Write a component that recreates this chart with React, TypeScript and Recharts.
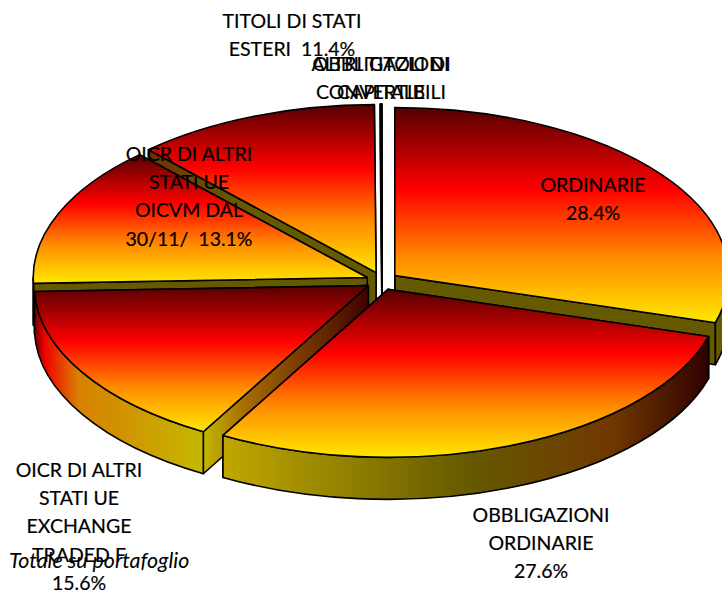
import { PieChart, Pie } from "recharts";

const names = [
  "ORDINARIE",
  "OBBLIGAZIONI ORDINARIE",
  "OICR DI ALTRI STATI UE EXCHANGE TRADED F",
  "OICR DI ALTRI STATI UE OICVM DAL 30/11/",
  "TITOLI DI STATI ESTERI",
  "ALTRI TITOLI DI CAPITALE",
  "OBBLIGAZIONI CONVERTIBILI",
];
const values = [28.4, 27.6, 15.6, 13.1, 11.4, 0.04, 0.04];
const labelLines = [
  ["ORDINARIE", "28.4%"],
  ["OBBLIGAZIONI", "ORDINARIE", "27.6%"],
  ["OICR DI ALTRI", "STATI UE", "EXCHANGE", "TRADED F", "15.6%"],
  ["OICR DI ALTRI", "STATI UE", "OICVM DAL", "30/11/  13.1%"],
  ["TITOLI DI STATI", "ESTERI  11.4%"],
  ["ALTRI TITOLI DI", "CAPITALE"],
  ["OBBLIGAZIONI", "CONVERTIBILI"],
];

const data = names.map((name, i) => ({ name, value: values[i] }));

// back slices first, front slices paint over their walls
const drawOrder = [5, 6, 4, 3, 0, 2, 1];

// layout of the labels: centre x and first baseline
const labelSpots = [
  [593, 192],
  [541, 522],
  [79, 477],
  [189, 161],
  [292, 28],
  [381, 71],
  [381, 71],
];

const CX = 382;
const CY = 281;
const RX = 334;
const RY = 168;
const DEPTH = 42;
const EXPLODE_X = 16;
const EXPLODE_Y = 9;
const OLIVE = "#665a00";

const outerWall = [OLIVE, "url(#wallFront)", "url(#wallLeft)", "#8b0000", OLIVE, OLIVE, OLIVE];
const radialWall = [OLIVE, OLIVE, "url(#wallEdge)", OLIVE, "url(#wallBand)", OLIVE, OLIVE];

const rad = (deg: number) => (deg * Math.PI) / 180;

function Slice(props: any) {
  const { name, startAngle, endAngle, midAngle, cx, cy, outerRadius } = props;
  const i = names.indexOf(name);
  const squash = RY / RX;
  const ry = outerRadius * squash;
  const ax = cx + EXPLODE_X * Math.cos(rad(midAngle));
  const ay = cy - EXPLODE_Y * Math.sin(rad(midAngle));
  const pt = (deg: number, drop = 0) => [
    ax + outerRadius * Math.cos(rad(deg)),
    ay - ry * Math.sin(rad(deg)) + drop,
  ];
  const [sx, sy] = pt(startAngle);
  const [ex, ey] = pt(endAngle);
  const large = startAngle - endAngle > 180 ? 1 : 0;
  const top = `M${ax},${ay} L${sx},${sy} A${outerRadius},${ry} 0 ${large} 1 ${ex},${ey} Z`;

  const quad = (x: number, y: number) =>
    `M${ax},${ay} L${x},${y} L${x},${y + DEPTH} L${ax},${ay + DEPTH} Z`;

  // only the part of the rim on the lower half of the ellipse shows
  const from = Math.min(startAngle, 0);
  const to = Math.max(endAngle, -180);
  let rim = null;
  if (from > to) {
    const [x1, y1] = pt(from);
    const [x2, y2] = pt(to);
    rim = `M${x1},${y1} A${outerRadius},${ry} 0 0 1 ${x2},${y2} L${x2},${y2 + DEPTH} A${outerRadius},${ry} 0 0 0 ${x1},${y1 + DEPTH} Z`;
  }

  return (
    <g stroke="#000" strokeWidth={1.6} strokeLinejoin="round">
      <path d={quad(ex, ey)} fill={radialWall[i]} />
      <path d={quad(sx, sy)} fill={radialWall[i]} />
      {rim && <path d={rim} fill={outerWall[i]} />}
      <path d={top} fill="url(#topFace)" />
    </g>
  );
}

function SliceLabel(props: any) {
  const i = names.indexOf(props.name);
  const [x, y] = labelSpots[i];
  return (
    <text
      x={x}
      y={y}
      textAnchor="middle"
      fontFamily="Lato"
      fontSize={19.5}
      fill="#000"
      stroke="#000"
      strokeWidth={0.2}
      style={{ whiteSpace: "pre" }}
    >
      {labelLines[i].map((line, n) => (
        <tspan key={n} x={x} y={y + n * 28.2}>
          {line}
        </tspan>
      ))}
    </text>
  );
}

export default function App() {
  return (
    <div style={{ position: "absolute", left: 0, top: 0, width: 722, height: 592, background: "#fff" }}>
      <PieChart width={722} height={592} margin={{ top: 0, right: 0, bottom: 0, left: 0 }}>
        <defs>
          <linearGradient id="topFace" x1="0" y1="0" x2="0" y2="1">
            <stop offset="0" stopColor="#560000" />
            <stop offset="0.38" stopColor="#ff0000" />
            <stop offset="0.7" stopColor="#ff8c00" />
            <stop offset="1" stopColor="#ffe800" />
          </linearGradient>
          <linearGradient id="wallFront" x1="0" y1="0" x2="1" y2="0">
            <stop offset="0" stopColor="#c0a800" />
            <stop offset="0.5" stopColor="#665a00" />
            <stop offset="0.8" stopColor="#703800" />
            <stop offset="1" stopColor="#300000" />
          </linearGradient>
          <linearGradient id="wallLeft" x1="0" y1="0" x2="1" y2="0">
            <stop offset="0" stopColor="#700000" />
            <stop offset="0.06" stopColor="#f00000" />
            <stop offset="0.26" stopColor="#d88000" />
            <stop offset="1" stopColor="#c4b800" />
          </linearGradient>
          <linearGradient id="wallEdge" x1="0" y1="0" x2="1" y2="0">
            <stop offset="0" stopColor="#c4b800" />
            <stop offset="0.25" stopColor="#a86c00" />
            <stop offset="1" stopColor="#400000" />
          </linearGradient>
          <linearGradient id="wallBand" x1="0" y1="0" x2="1" y2="0">
            <stop offset="0" stopColor="#703000" />
            <stop offset="0.4" stopColor="#665a00" />
            <stop offset="1" stopColor="#665a00" />
          </linearGradient>
        </defs>
        {drawOrder.map((idx) => (
          <Pie
            key={names[idx]}
            data={data}
            dataKey="value"
            nameKey="name"
            cx={CX}
            cy={CY}
            innerRadius={0}
            outerRadius={RX}
            startAngle={90}
            endAngle={-270}
            paddingAngle={0}
            stroke="none"
            isAnimationActive={false}
            shape={(p: any) => (p.name === names[idx] ? <Slice {...p} /> : <g />)}
          />
        ))}
        <Pie
          data={data}
          dataKey="value"
          nameKey="name"
          cx={CX}
          cy={CY}
          outerRadius={RX}
          startAngle={90}
          endAngle={-270}
          isAnimationActive={false}
          shape={() => <g />}
          labelLine={false}
          label={(p: any) => <SliceLabel {...p} />}
        />
        <text x={9} y={568} fontFamily="Lato" fontStyle="italic" fontSize={21.4} fill="#000">
          Totale su portafoglio
        </text>
      </PieChart>
    </div>
  );
}
